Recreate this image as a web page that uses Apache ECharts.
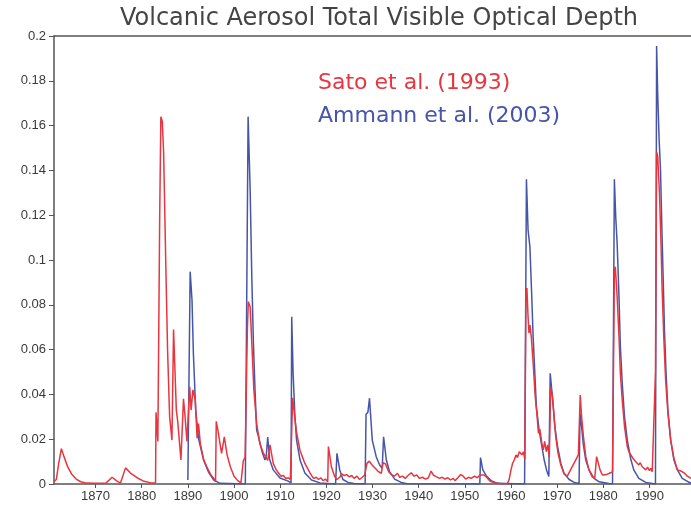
<!DOCTYPE html>
<html>
<head>
<meta charset="utf-8">
<title>Volcanic Aerosol Total Visible Optical Depth</title>
<script src="https://cdn.jsdelivr.net/npm/echarts@6/dist/echarts.min.js"></script>
<style>
  html, body { margin: 0; padding: 0; background: #ffffff; }
  #chart { width: 691px; height: 505px; }
</style>
</head>
<body>
<div id="chart"></div>
<script>
// Decade tick positions along the time axis
const yearTicks = [1870, 1880, 1890, 1900, 1910, 1920, 1930, 1940, 1950, 1960, 1970, 1980, 1990];

// Series names
const satoName = 'Sato et al. (1993)';
const ammannName = 'Ammann et al. (2003)';

// Sato et al. (1993): [year, optical depth]
const satoSeries = [
  [1861.0, 0.001], [1861.5, 0.002], [1862.0, 0.009], [1862.6, 0.0158], [1863.2, 0.012],
  [1864.0, 0.0075], [1864.8, 0.0045], [1865.8, 0.0022], [1866.8, 0.001], [1868.0, 0.0004],
  [1870.0, 0.0003], [1872.3, 0.0005], [1873.6, 0.003], [1874.5, 0.0015], [1875.4, 0.0004],
  [1876.5, 0.0072], [1877.5, 0.005], [1879.0, 0.0028], [1880.5, 0.0012], [1882.0, 0.0005],
  [1883.0, 0.0004], [1883.1, 0.032], [1883.5, 0.019], [1883.9, 0.12], [1884.15, 0.164],
  [1884.45, 0.162], [1884.75, 0.148], [1885.2, 0.1], [1885.6, 0.06], [1886.05, 0.030],
  [1886.55, 0.0196], [1886.9, 0.069], [1887.5, 0.033], [1887.8, 0.028], [1888.5, 0.0107],
  [1889.05, 0.038], [1889.4, 0.030], [1889.8, 0.019], [1890.4, 0.0434], [1890.7, 0.033],
  [1891.1, 0.042], [1891.6, 0.0375], [1892.0, 0.0204], [1892.3, 0.027], [1892.7, 0.018],
  [1893.4, 0.011], [1894.1, 0.0077], [1895.0, 0.004], [1895.6, 0.0025], [1896.0, 0.001],
  [1896.15, 0.028], [1896.5, 0.024], [1897.3, 0.0137], [1897.9, 0.021], [1898.5, 0.013],
  [1899.2, 0.0077], [1900.0, 0.0035], [1900.8, 0.0015], [1901.5, 0.0005], [1902.0, 0.0102],
  [1902.4, 0.012], [1902.9, 0.07], [1903.1, 0.0814], [1903.5, 0.079], [1903.85, 0.063],
  [1904.3, 0.042], [1904.9, 0.027], [1905.6, 0.018], [1906.35, 0.0138], [1906.9, 0.012],
  [1907.3, 0.0105], [1907.8, 0.0175], [1908.0, 0.015], [1908.5, 0.0092], [1909.1, 0.0065],
  [1909.6, 0.005], [1910.2, 0.0035], [1910.7, 0.0038], [1911.2, 0.0025], [1911.75, 0.0028],
  [1912.2, 0.002], [1912.45, 0.02], [1912.7, 0.0385], [1913.2, 0.029], [1913.55, 0.023],
  [1914.3, 0.015], [1915.35, 0.0092], [1916.45, 0.005], [1916.9, 0.0035], [1917.3, 0.0025],
  [1917.8, 0.003], [1918.3, 0.002], [1918.8, 0.0028], [1919.3, 0.0015], [1919.8, 0.0022],
  [1920.3, 0.001], [1920.45, 0.0167], [1921.1, 0.0077], [1921.8, 0.0033], [1922.3, 0.002],
  [1922.9, 0.003], [1923.3, 0.0045], [1923.9, 0.0038], [1924.4, 0.0042], [1925.0, 0.0032],
  [1925.5, 0.0038], [1926.0, 0.0025], [1926.6, 0.0035], [1927.2, 0.002], [1927.8, 0.003],
  [1928.3, 0.004], [1928.8, 0.0092], [1929.3, 0.0102], [1929.9, 0.0085], [1930.6, 0.007],
  [1931.3, 0.0055], [1931.9, 0.0048], [1932.3, 0.0095], [1932.8, 0.009], [1933.5, 0.0055],
  [1934.2, 0.004], [1934.8, 0.0036], [1935.4, 0.0048], [1935.9, 0.003], [1936.5, 0.0035],
  [1937.1, 0.0025], [1937.7, 0.0038], [1938.4, 0.005], [1939.0, 0.0035], [1939.6, 0.004],
  [1940.2, 0.0025], [1940.8, 0.003], [1941.5, 0.0022], [1942.1, 0.0028], [1942.7, 0.0058],
  [1943.2, 0.004], [1943.8, 0.0033], [1944.5, 0.0025], [1945.1, 0.003], [1945.7, 0.0022],
  [1946.3, 0.0028], [1946.9, 0.0018], [1947.5, 0.0025], [1947.9, 0.0015], [1948.5, 0.0028],
  [1949.1, 0.0042], [1949.6, 0.0036], [1950.2, 0.0022], [1950.8, 0.003], [1951.4, 0.0025],
  [1952.1, 0.0035], [1952.7, 0.0028], [1953.3, 0.004], [1953.7, 0.0048], [1954.2, 0.004],
  [1954.8, 0.0028], [1955.5, 0.0012], [1956.3, 0.0006], [1957.5, 0.0002], [1959.2, 0.0001],
  [1959.6, 0.002], [1960.0, 0.0063], [1960.35, 0.0092], [1960.7, 0.0107], [1961.1, 0.013],
  [1961.4, 0.0118], [1961.8, 0.0144], [1962.35, 0.013], [1962.7, 0.0144], [1963.0, 0.011],
  [1963.25, 0.0866], [1963.45, 0.0875], [1963.7, 0.0747], [1963.9, 0.0673], [1964.1, 0.071],
  [1964.4, 0.0658], [1964.8, 0.054], [1965.25, 0.039], [1965.6, 0.0316], [1965.95, 0.0226],
  [1966.25, 0.0245], [1966.7, 0.018], [1967.0, 0.0152], [1967.3, 0.019], [1967.65, 0.0145],
  [1967.95, 0.0175], [1968.3, 0.012], [1968.6, 0.0434], [1969.0, 0.039], [1969.35, 0.030],
  [1969.7, 0.0211], [1970.2, 0.0137], [1970.8, 0.0085], [1971.5, 0.0045], [1972.2, 0.0035],
  [1974.6, 0.013], [1975.0, 0.0397], [1975.3, 0.030], [1975.7, 0.0211], [1976.2, 0.0122],
  [1976.9, 0.0063], [1977.6, 0.0032], [1978.15, 0.0025], [1978.55, 0.0122], [1978.9, 0.0115],
  [1979.3, 0.0063], [1979.8, 0.004], [1980.2, 0.0048], [1980.7, 0.0042], [1981.1, 0.0046],
  [1981.55, 0.005], [1982.0, 0.0055], [1982.4, 0.095], [1982.6, 0.097], [1983.0, 0.0836],
  [1983.4, 0.0658], [1983.7, 0.0494], [1984.1, 0.0375], [1984.6, 0.0256], [1985.2, 0.0167],
  [1985.55, 0.0144], [1985.9, 0.0137], [1986.4, 0.0115], [1987.0, 0.010], [1987.4, 0.0092],
  [1987.7, 0.0085], [1988.0, 0.0095], [1988.4, 0.0078], [1988.8, 0.0085], [1989.2, 0.0063],
  [1989.6, 0.0075], [1990.0, 0.006], [1990.3, 0.007], [1990.6, 0.0055], [1991.0, 0.0049],
  [1991.3, 0.05], [1991.55, 0.1484], [1991.8, 0.146], [1992.2, 0.128], [1992.5, 0.1075],
  [1992.75, 0.0866], [1993.1, 0.0658], [1993.5, 0.0464], [1994.0, 0.0315], [1994.6, 0.0196],
  [1995.3, 0.0115], [1996.05, 0.0063], [1996.8, 0.0058], [1997.5, 0.005], [1998.2, 0.0035],
  [1999.0, 0.0025]
];

// Ammann et al. (2003): [year, optical depth]
const ammannSeries = [
  [1890.0, 0.0018], [1890.5, 0.0948], [1890.9, 0.082], [1891.2, 0.058], [1891.7, 0.033],
  [1892.3, 0.0204], [1893.4, 0.0107], [1894.5, 0.0052], [1895.6, 0.0017], [1897.0, 0.0003],
  [1902.45, 0], [1903.05, 0.164], [1903.5, 0.131], [1903.85, 0.0925], [1904.2, 0.063],
  [1904.55, 0.042], [1904.9, 0.024], [1905.2, 0.022], [1906.0, 0.015], [1906.7, 0.0107],
  [1907.0, 0.013], [1907.3, 0.021], [1907.7, 0.011], [1908.5, 0.0063], [1909.95, 0.0027],
  [1911.75, 0.0013], [1912.35, 0.0005], [1912.5, 0.0747], [1912.8, 0.0495], [1913.2, 0.030],
  [1913.55, 0.0196], [1914.3, 0.0107], [1915.35, 0.0049], [1916.8, 0.0018], [1918.6, 0.0005],
  [1922.0, 0], [1922.3, 0.0137], [1922.9, 0.0063], [1923.6, 0.002], [1924.7, 0.0007],
  [1926.0, 0.0002], [1928.4, 0], [1928.6, 0.031], [1929.0, 0.032], [1929.35, 0.0383],
  [1929.95, 0.0196], [1930.8, 0.0122], [1931.55, 0.0085], [1932.1, 0.007], [1932.4, 0.0211],
  [1933.0, 0.0107], [1933.7, 0.0055], [1934.8, 0.0022], [1936.2, 0.0007], [1937.5, 0.0001],
  [1953.25, 0], [1953.4, 0.0118], [1953.9, 0.0063], [1954.6, 0.0038], [1955.7, 0.0015],
  [1957.1, 0.0003], [1962.95, 0], [1963.35, 0.136], [1963.7, 0.1134], [1964.1, 0.106],
  [1964.45, 0.0866], [1964.8, 0.0658], [1965.2, 0.048], [1965.5, 0.0345], [1966.1, 0.024],
  [1966.7, 0.0167], [1967.2, 0.0107], [1967.7, 0.0063], [1968.2, 0.0033], [1968.3, 0.003],
  [1968.5, 0.0494], [1968.8, 0.0427], [1969.15, 0.0345], [1969.5, 0.0256], [1970.1, 0.0167],
  [1970.8, 0.0092], [1971.5, 0.0048], [1972.6, 0.002], [1973.7, 0.0007], [1974.75, 0.0002],
  [1974.95, 0.0315], [1975.3, 0.0256], [1975.65, 0.018], [1976.2, 0.0107], [1976.9, 0.0063],
  [1978.0, 0.0025], [1979.1, 0.001], [1981.2, 0.0002], [1982.0, 0.0001], [1982.4, 0.136],
  [1982.7, 0.119], [1983.0, 0.1075], [1983.4, 0.0836], [1983.7, 0.0613], [1984.1, 0.045],
  [1984.6, 0.030], [1985.2, 0.0196], [1985.9, 0.0115], [1986.6, 0.0063], [1987.7, 0.0025],
  [1989.2, 0.0007], [1991.3, 0], [1991.55, 0.1955], [1991.8, 0.173], [1992.1, 0.1536],
  [1992.4, 0.140], [1992.7, 0.1134], [1993.0, 0.0896], [1993.25, 0.0688], [1993.6, 0.0494],
  [1994.0, 0.033], [1994.6, 0.0196], [1995.3, 0.0107], [1996.05, 0.0063], [1997.1, 0.0025],
  [1998.5, 0.0008], [1999.0, 0.0005]
];

const RED = '#e8353f';
const BLUE = '#4655a8';
const AXIS = '#555555';
const LABEL = '#3a3a3a';

const chart = echarts.init(document.getElementById('chart'), null, { renderer: 'canvas' });

chart.setOption({
  animation: false,
  backgroundColor: '#ffffff',
  title: {
    text: 'Volcanic Aerosol Total Visible Optical Depth',
    left: 374,
    textAlign: 'center',
    top: 2,
    textStyle: { fontFamily: 'DejaVu Sans', fontSize: 24, fontWeight: 'normal', color: '#444444' }
  },
  legend: {
    orient: 'vertical',
    left: 308,
    top: 67,
    icon: 'none',
    itemWidth: 0,
    itemHeight: 14,
    itemGap: 11,
    selectedMode: false,
    textStyle: { fontFamily: 'DejaVu Sans', fontSize: 22 },
    data: [
      { name: satoName, textStyle: { color: RED } },
      { name: ammannName, textStyle: { color: BLUE } }
    ]
  },
  grid: { left: 54, right: 0, top: 36, bottom: 21, containLabel: false },
  xAxis: [
    {
      type: 'value',
      min: 1861,
      max: 1999,
      axisLine: { show: true, lineStyle: { color: AXIS, width: 1.5 } },
      axisTick: { show: true, customValues: yearTicks, length: 4, inside: false, lineStyle: { color: AXIS } },
      axisLabel: {
        customValues: yearTicks,
        formatter: (v) => String(v),
        margin: 6,
        fontFamily: 'Liberation Sans',
        fontSize: 13,
        color: LABEL
      },
      splitLine: { show: false }
    },
    {
      type: 'value',
      position: 'top',
      min: 1861,
      max: 1999,
      axisLine: { show: true, lineStyle: { color: AXIS, width: 1.5 } },
      axisTick: { show: false },
      axisLabel: { show: false },
      splitLine: { show: false }
    }
  ],
  yAxis: {
    type: 'value',
    min: 0,
    max: 0.2,
    interval: 0.02,
    axisLine: { show: true, lineStyle: { color: AXIS, width: 1.5 } },
    axisTick: { show: true, length: 5, inside: false, lineStyle: { color: AXIS } },
    axisLabel: {
      margin: 8,
      fontFamily: 'Liberation Sans',
      fontSize: 13,
      color: LABEL
    },
    splitLine: { show: false }
  },
  series: [
    {
      name: ammannName,
      type: 'line',
      data: ammannSeries,
      showSymbol: false,
      symbol: 'none',
      lineStyle: { color: BLUE, width: 1.5 },
      itemStyle: { color: BLUE },
      z: 2
    },
    {
      name: satoName,
      type: 'line',
      data: satoSeries,
      showSymbol: false,
      symbol: 'none',
      lineStyle: { color: RED, width: 1.5 },
      itemStyle: { color: RED },
      z: 3
    }
  ]
});
</script>
</body>
</html>
